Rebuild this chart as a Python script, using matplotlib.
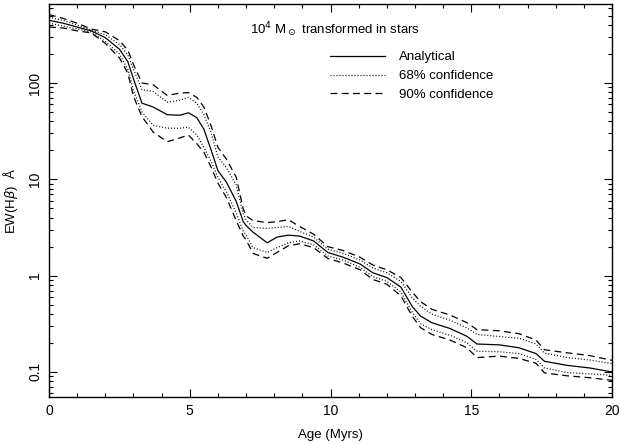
import numpy as np
import matplotlib
matplotlib.use('Agg')
import matplotlib.pyplot as plt
from matplotlib.ticker import FixedLocator, NullFormatter, MultipleLocator

plt.rcParams['font.family'] = ['Liberation Sans', 'DejaVu Sans']
plt.rcParams['mathtext.fontset'] = 'dejavusans'

# Age in Myrs
age = [0, 0.5, 1.0, 1.5, 2.0, 2.5, 2.8, 3.0, 3.3, 3.7, 4.2, 4.65, 4.95, 5.25,
       5.5, 5.75, 6.0, 6.3, 6.65, 6.9, 7.0, 7.25, 7.75, 8.1, 8.5, 8.9, 9.4,
       9.9, 10.45, 11.05, 11.5, 12.0, 12.5, 12.9, 13.2, 13.6, 14.25, 14.85,
       15.2, 16.0, 16.7, 17.3, 17.6, 18.4, 19.2, 20.0]

# EW(Hbeta) in Angstrom, analytical
ew_analytical = [447, 417, 380, 347, 295, 224, 166, 110, 61.7, 56.2, 46.8, 46.2,
                 49.0, 43.6, 33.1, 20.4, 12.3, 9.33, 5.89, 3.63, 3.31, 2.82,
                 2.19, 2.51, 2.63, 2.57, 2.29, 1.74, 1.55, 1.32, 1.07, 0.955,
                 0.759, 0.479, 0.380, 0.324, 0.282, 0.234, 0.195, 0.191, 0.178,
                 0.155, 0.129, 0.117, 0.110, 0.100]

# 68% confidence band
ew_hi68 = [479, 447, 398, 355, 316, 251, 195, 138, 85.1, 81.3, 63.1, 66.1, 70.8,
           61.7, 46.8, 30.9, 17.0, 13.2, 8.71, 4.37, 3.80, 3.16, 3.09, 3.16,
           3.24, 2.88, 2.51, 1.88, 1.70, 1.45, 1.20, 1.07, 0.871, 0.589, 0.479,
           0.398, 0.344, 0.286, 0.245, 0.233, 0.224, 0.195, 0.157, 0.141,
           0.133, 0.122]
ew_lo68 = [417, 389, 363, 339, 269, 200, 138, 83.2, 50.1, 36.3, 33.9, 33.9, 34.7,
           28.8, 21.4, 15.5, 10.5, 7.41, 4.47, 2.88, 2.63, 1.95, 1.74, 1.95,
           2.19, 2.29, 2.09, 1.60, 1.45, 1.22, 0.977, 0.871, 0.676, 0.417,
           0.316, 0.275, 0.240, 0.200, 0.164, 0.162, 0.155, 0.135, 0.110,
           0.0986, 0.0955, 0.0923]

# 90% confidence band
ew_hi90 = [513, 468, 417, 363, 339, 275, 219, 155, 100, 95.5, 74.1, 78.5, 79.4,
           70.8, 56.2, 36.3, 21.4, 16.2, 10.5, 4.90, 4.17, 3.72, 3.55, 3.63,
           3.80, 3.24, 2.69, 2.00, 1.82, 1.55, 1.29, 1.15, 0.955, 0.676, 0.537,
           0.447, 0.389, 0.324, 0.275, 0.267, 0.249, 0.214, 0.170, 0.158,
           0.148, 0.132]
ew_lo90 = [380, 372, 347, 331, 257, 182, 126, 72.4, 44.7, 30.9, 24.5, 26.9, 28.8,
           23.4, 19.1, 13.5, 9.12, 6.46, 3.72, 2.57, 2.34, 1.70, 1.51, 1.74,
           2.04, 2.14, 1.95, 1.51, 1.35, 1.15, 0.912, 0.813, 0.617, 0.380,
           0.288, 0.245, 0.214, 0.178, 0.141, 0.146, 0.138, 0.123, 0.0977,
           0.0912, 0.0871, 0.0818]

fig = plt.figure(figsize=(6.21, 4.44), dpi=100)
ax = fig.add_axes([0.079, 0.106, 0.9065, 0.885])

lw = 0.9
ax.plot(age, ew_analytical, color='black', lw=lw, label='Analytical')
ax.plot(age, ew_hi68, color='black', lw=lw, ls=(0, (0.8, 1.6)), label='68% confidence')
ax.plot(age, ew_lo68, color='black', lw=lw, ls=(0, (0.8, 1.6)))
ax.plot(age, ew_hi90, color='black', lw=lw, ls=(0, (5.5, 3.5)), label='90% confidence')
ax.plot(age, ew_lo90, color='black', lw=lw, ls=(0, (5.5, 3.5)))

ax.set_yscale('log')
ax.set_xlim(0, 20)
ax.set_ylim(0.055, 660)

ax.xaxis.set_major_locator(MultipleLocator(5))
ax.xaxis.set_minor_locator(MultipleLocator(1))
ax.yaxis.set_major_locator(FixedLocator([0.1, 1, 10, 100]))
ax.set_yticklabels(['0.1', '1', '10', '100'])
ax.yaxis.set_minor_formatter(NullFormatter())

ax.tick_params(which='both', direction='in', top=True, right=True, labelsize=10)
ax.tick_params(which='major', length=6, width=0.8, pad=5)
ax.tick_params(which='minor', length=3, width=0.8)
plt.setp(ax.get_yticklabels(), rotation=90, va='center')
for s in ax.spines.values():
    s.set_linewidth(1.0)

ax.set_xlabel('Age (Myrs)', fontsize=9.5, labelpad=8)
ax.set_ylabel('EW(H$\\beta$)  Å', fontsize=9.5, labelpad=6)

ax.text(0.357, 0.934, '10$^4$ M$_\\odot$ transformed in stars', transform=ax.transAxes,
        fontsize=9.5, va='center', ha='left')

ax.legend(loc='upper left', bbox_to_anchor=(0.499, 0.88), frameon=False,
          fontsize=9.5, handlelength=4.2, handletextpad=1.0, labelspacing=0.5,
          borderpad=0, borderaxespad=0)

fig.savefig('out.png', dpi=100)
